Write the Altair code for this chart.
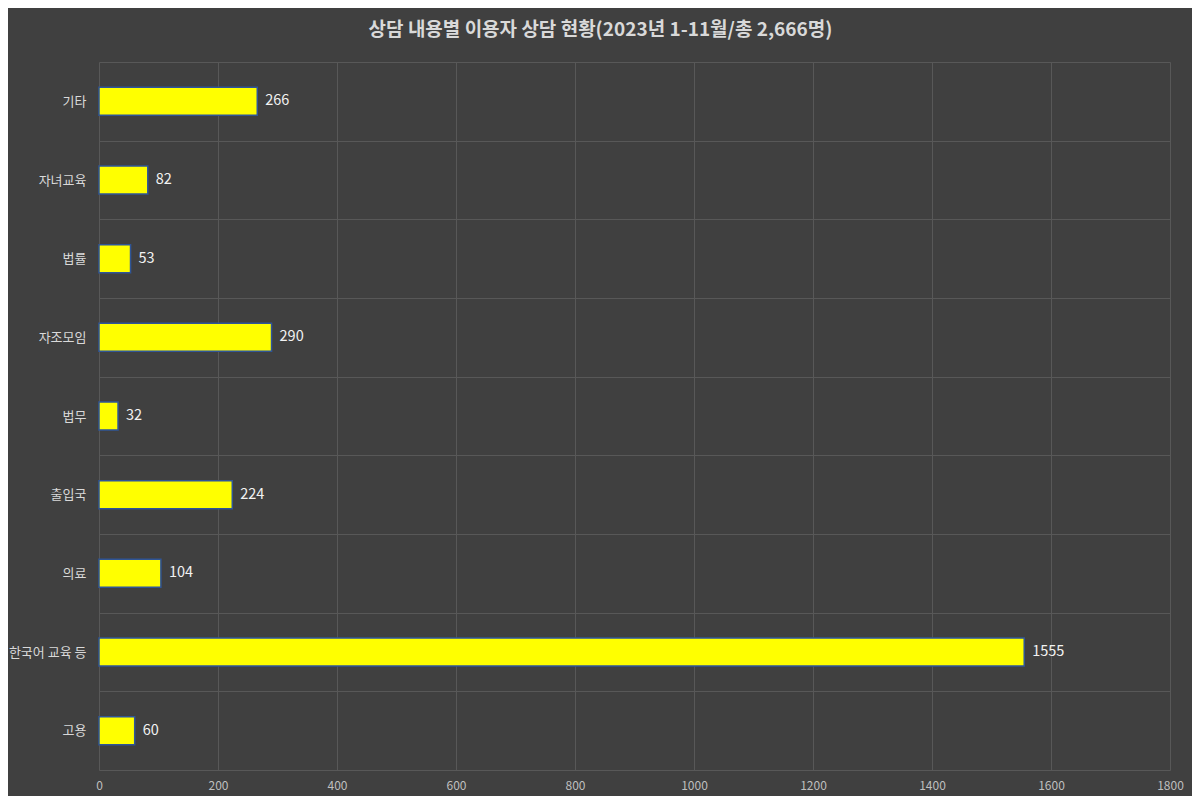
import altair as alt
import pandas as pd

categories = ["기타", "자녀교육", "법률", "자조모임", "법무", "출입국", "의료", "한국어 교육 등", "고용"]
values = [266, 82, 53, 290, 32, 224, 104, 1555, 60]
x_ticks = [0, 200, 400, 600, 800, 1000, 1200, 1400, 1600, 1800]
title_text = "상담 내용별 이용자 상담 현황(2023년 1-11월/총 2,666명)"

df = pd.DataFrame({"category": categories, "value": values})

FONT = "Noto Sans CJK KR"
BG = "#404040"
GRID = "#585858"

y_enc = alt.Y(
    "category:N",
    sort=categories,
    scale=alt.Scale(paddingInner=0, paddingOuter=0),
    axis=alt.Axis(
        title=None,
        domain=False,
        ticks=False,
        grid=True,
        gridColor=GRID,
        gridWidth=1,
        tickBand="extent",
        labelColor="#d9d9d9",
        labelFont=FONT,
        labelFontSize=13,
        labelPadding=13,
    ),
)
x_enc = alt.X(
    "value:Q",
    scale=alt.Scale(domain=[0, 1800], nice=False),
    axis=alt.Axis(
        title=None,
        values=x_ticks,
        format="d",
        domain=False,
        ticks=False,
        grid=True,
        gridColor=GRID,
        gridWidth=1,
        labelColor="#bfbfbf",
        labelFont=FONT,
        labelFontSize=12,
        labelPadding=10,
        labelFlush=False,
    ),
)

bars = alt.Chart(df).mark_bar(
    color="#ffff00",
    stroke="#2f5597",
    strokeWidth=1.5,
    height=28,
).encode(y=y_enc, x=x_enc)

labels = alt.Chart(df).mark_text(
    align="left",
    baseline="middle",
    dx=8,
    font=FONT,
    fontSize=14.5,
    color="#f2f2f2",
).encode(y=alt.Y("category:N", sort=categories), x="value:Q", text="value:Q")

chart = (
    alt.layer(bars, labels)
    .properties(
        width=1071,
        height=708,
        background=BG,
        padding={"left": 91, "top": 54, "right": 22, "bottom": 26},
        autosize=alt.AutoSizeParams(type="none"),
        title=alt.TitleParams(
            text=title_text,
            font=FONT,
            fontSize=19,
            fontWeight="bold",
            color="#d9d9d9",
            anchor="middle",
            dx=-34,
            offset=16,
        ),
    )
    .configure_view(stroke=None)
)

chart.save("out.html", embed_options={"renderer": "svg", "actions": False})
